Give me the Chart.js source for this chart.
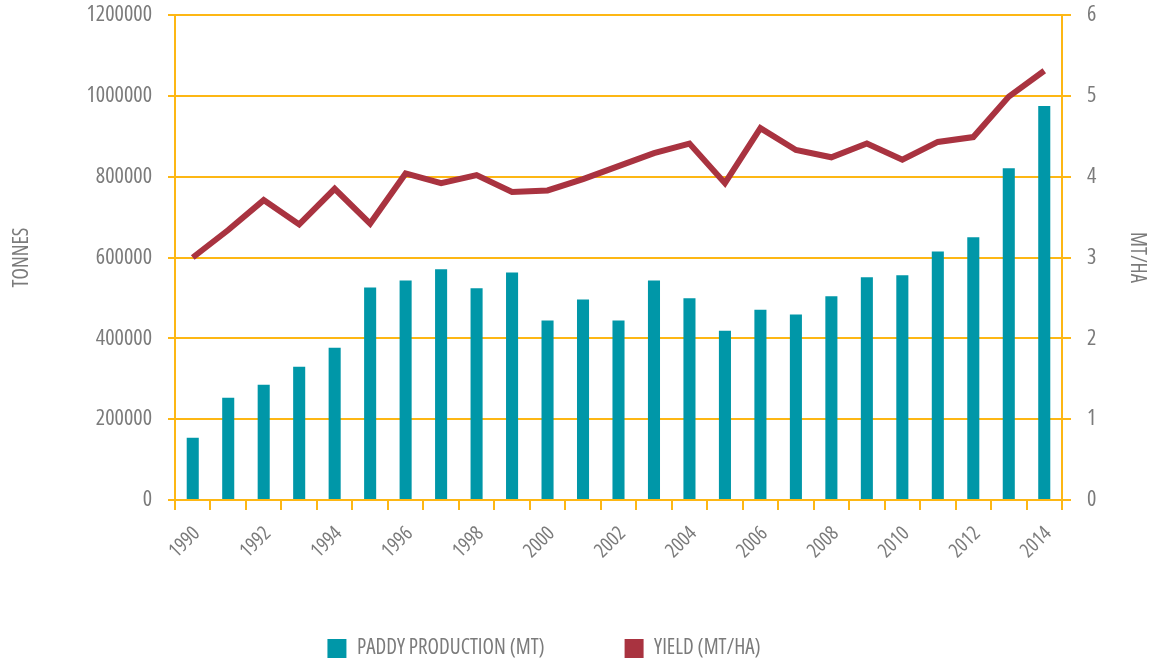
<!DOCTYPE html>
<html>
<head>
<meta charset="utf-8">
<script src="https://cdn.jsdelivr.net/npm/chart.js@4.4.1/dist/chart.umd.min.js"></script>
<style>
    html, body { margin: 0; padding: 0; background: #fff; }
    #wrap { width: 1154px; height: 664px; position: relative; }
</style>
</head>
<body>
<div id="wrap"><canvas id="riceChart"></canvas></div>
<script>
const years = ['1990', '1991', '1992', '1993', '1994', '1995', '1996', '1997', '1998', '1999',
    '2000', '2001', '2002', '2003', '2004', '2005', '2006', '2007', '2008', '2009',
    '2010', '2011', '2012', '2013', '2014']

// paddy production, tonnes
const production = [154000, 253000, 285000, 330000, 377000, 526000, 543000, 571000, 524000, 563000,
    444000, 496000, 444000, 543000, 499000, 419000, 471000, 459000, 504000, 551000,
    556000, 615000, 650000, 821000, 975000]

// yield, mt/ha
const yieldValues = [3.00, 3.34, 3.71, 3.41, 3.85, 3.42, 4.04, 3.92, 4.02, 3.81,
    3.83, 3.97, 4.13, 4.29, 4.41, 3.92, 4.60, 4.33, 4.24, 4.41,
    4.21, 4.43, 4.49, 4.99, 5.31]

const tonnesTicks = { min: 0, max: 1200000, step: 200000 }
const yieldTicks = { min: 0, max: 6, step: 1 }

const teal = '#0097a8'
const red = '#a93340'
const orange = '#fdb714'
const grey = '#7b7b7b'

// 'condensed' goes in the weight slot so the canvas picks Open Sans Condensed
function cfont(size){
    return { family: "'Open Sans', sans-serif", size: size, weight: 'condensed' }
}

// legend sits a bit left of the page centre; x labels need room below the axis box
const layoutTweaks = {
    id: 'layoutTweaks',
    afterLayout(chart){
        chart.legend.left -= 33
        chart.legend.right -= 33
        chart.scales.x.bottom += 14
        chart.scales.x.height += 14
    }
}

let chartInstance = null

function initChart(){
    const ctx = document.getElementById('riceChart').getContext('2d')

    chartInstance = new Chart(ctx, {
        data: {
            labels: years,
            datasets: [{
                type: 'bar',
                label: 'PADDY PRODUCTION (MT)',
                data: production,
                backgroundColor: teal,
                borderWidth: 0,
                barPercentage: 0.34,
                categoryPercentage: 1.0,
                yAxisID: 'y'
            }, {
                type: 'line',
                label: 'YIELD (MT/HA)',
                data: yieldValues,
                borderColor: red,
                backgroundColor: red,
                borderWidth: 6,
                borderJoinStyle: 'miter',
                pointRadius: 0,
                tension: 0,
                yAxisID: 'y1'
            }]
        },
        plugins: [layoutTweaks],
        options: {
            responsive: true,
            maintainAspectRatio: false,
            animation: false,
            layout: { padding: { top: 15, bottom: -5, left: 0, right: 0 } },
            plugins: {
                tooltip: { enabled: false },
                legend: {
                    position: 'bottom',
                    labels: {
                        color: grey,
                        font: cfont(21),
                        boxWidth: 19,
                        boxHeight: 19,
                        padding: 80,
                        generateLabels: chart => {
                            const items = Chart.defaults.plugins.legend.labels.generateLabels(chart)
                            items.forEach(i => { i.lineWidth = 0; i.strokeStyle = 'transparent' })
                            return items
                        }
                    }
                }
            },
            scales: {
                x: {
                    offset: true,
                    grid: {
                        offset: true,
                        drawOnChartArea: false,
                        color: orange,
                        lineWidth: 2,
                        tickLength: 10
                    },
                    border: { color: orange, width: 2 },
                    ticks: {
                        color: grey,
                        font: cfont(20),
                        autoSkip: false,
                        minRotation: 45,
                        maxRotation: 45,
                        padding: 12,
                        labelOffset: 4,
                        callback: (val, idx) => idx % 2 === 0 ? years[idx] : ''
                    },
                    afterFit: scale => { scale.height = 58 }
                },
                y: {
                    position: 'left',
                    min: tonnesTicks.min,
                    max: tonnesTicks.max,
                    grid: { color: orange, lineWidth: 2, tickLength: 7 },
                    border: { color: orange, width: 2 },
                    ticks: {
                        stepSize: tonnesTicks.step,
                        color: grey,
                        padding: 16,
                        font: cfont(22),
                        callback: v => String(v)
                    },
                    title: {
                        display: true,
                        text: 'TONNES',
                        color: grey,
                        font: cfont(21),
                        padding: { top: 9, bottom: 0 }
                    },
                    afterFit: scale => {
                        scale.width = 175
                        scale.paddingTop = 0
                    }
                },
                y1: {
                    position: 'right',
                    min: yieldTicks.min,
                    max: yieldTicks.max,
                    grid: { drawOnChartArea: false, color: orange, lineWidth: 2, tickLength: 9 },
                    border: { color: orange, width: 2 },
                    ticks: {
                        stepSize: yieldTicks.step,
                        color: grey,
                        padding: 16,
                        font: cfont(22),
                        callback: v => String(v)
                    },
                    title: {
                        display: true,
                        text: 'MT/HA',
                        color: grey,
                        font: cfont(21),
                        padding: { top: 4, bottom: 0 }
                    },
                    afterFit: scale => {
                        scale.width = 92
                        scale.paddingTop = 0
                    }
                }
            }
        }
    })
}

document.addEventListener('DOMContentLoaded', () => {
    initChart()
})
</script>
</body>
</html>
